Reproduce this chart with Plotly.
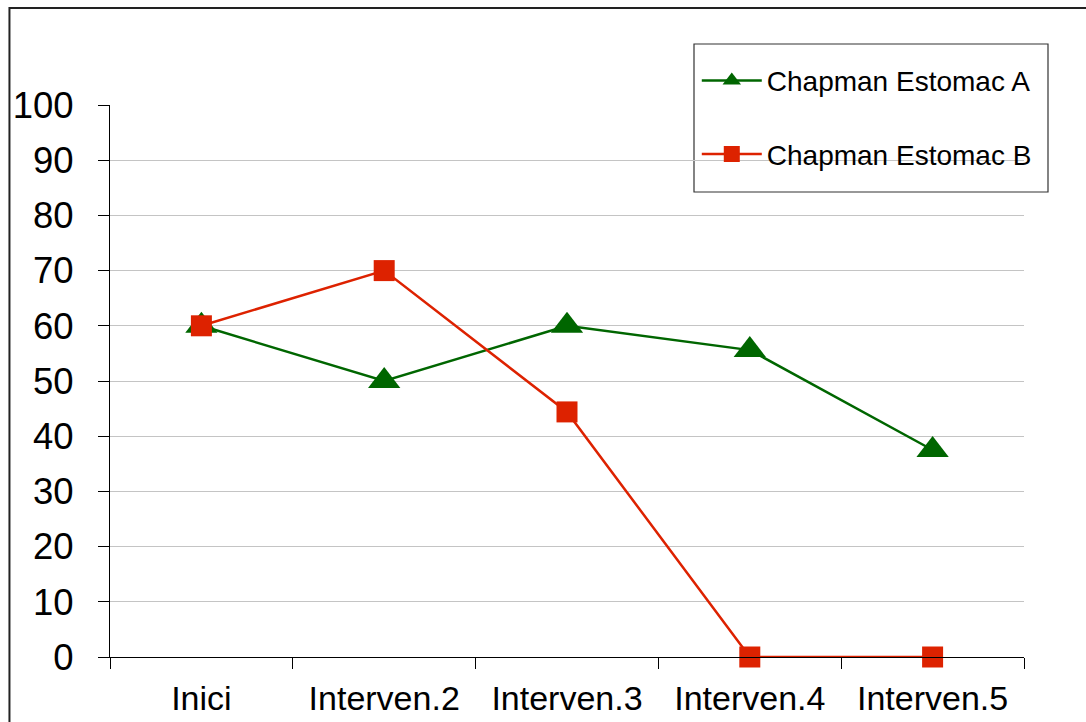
import plotly.graph_objects as go

# Sessions and values for each series
categories = ["Inici", "Interven.2", "Interven.3", "Interven.4", "Interven.5"]
estomac_a = [60, 50, 60, 55.6, 37.5]
estomac_b = [60, 70, 44.4, 0, 0]
y_ticks = [0, 10, 20, 30, 40, 50, 60, 70, 80, 90, 100]
grid_ticks = [10, 20, 30, 40, 50, 60, 70, 80, 90]

GREEN = "#006600"
RED = "#DD2200"
FONT = "Liberation Sans, Arial, sans-serif"

fig = go.Figure()

fig.add_trace(go.Scatter(
    x=categories, y=estomac_a, name="Chapman Estomac A",
    mode="lines+markers", legendgroup="a",
    line=dict(color=GREEN, width=2.5),
    marker=dict(symbol="triangle-up", size=28, color=GREEN),
    cliponaxis=False,
))
fig.add_trace(go.Scatter(
    x=categories, y=estomac_b, name="Chapman Estomac B",
    mode="lines+markers", legendgroup="b",
    line=dict(color=RED, width=2.5),
    marker=dict(symbol="square", size=21, color=RED),
    cliponaxis=False,
))

# invisible trace on the overlay axis so its gridlines are drawn
fig.add_trace(go.Scatter(x=categories, y=[None] * len(categories), yaxis="y2",
                         showlegend=False, hoverinfo="skip"))

fig.update_layout(
    width=1086, height=722,
    margin=dict(l=110, r=62, t=105, b=65),
    paper_bgcolor="white", plot_bgcolor="white",
    font=dict(family=FONT, color="black"),
    hovermode=False,
    xaxis=dict(
        type="category", range=[-0.5, 4.5], automargin=False,
        showline=True, linecolor="black", linewidth=1.2,
        ticks="outside", tickson="boundaries", ticklen=11, tickcolor="black", tickwidth=1.2,
        showgrid=False, zeroline=False,
        tickfont=dict(size=34, family=FONT, color="black"),
        ticklabelstandoff=11,
    ),
    yaxis=dict(
        range=[0, 100], tickvals=y_ticks, automargin=False,
        showline=True, linecolor="black", linewidth=1.2,
        ticks="outside", ticklen=11, tickcolor="black", tickwidth=1.2,
        showgrid=False, zeroline=False,
        tickfont=dict(size=36.5, family=FONT, color="black"),
        ticklabelstandoff=17,
    ),
    yaxis2=dict(
        range=[0, 100], tickvals=grid_ticks, overlaying="y", automargin=False,
        showticklabels=False, ticks="", showline=False, zeroline=False,
        showgrid=True, gridcolor="#c4c4c4", gridwidth=1,
    ),
    legend=dict(
        x=0.642, y=1.089, xanchor="left", yanchor="top",
        borderwidth=0, bgcolor="rgba(0,0,0,0)",
        font=dict(size=28, family=FONT, color="black"),
        traceorder="grouped", tracegroupgap=34,
        itemwidth=60,
    ),
    shapes=[
        # outer frame
        dict(type="rect", xref="paper", yref="paper",
             x0=-0.110, x1=1.2, y0=-0.3, y1=1.1757,
             line=dict(color="#222222", width=2), layer="below"),
        # legend frame
        dict(type="rect", xref="paper", yref="paper",
             x0=(694 - 110) / 914, x1=(1048 - 110) / 914,
             y0=(657 - 192) / 552, y1=(657 - 44) / 552,
             line=dict(color="#333333", width=1.2), fillcolor="white", layer="below"),
    ],
)

fig.write_html("out.html")
